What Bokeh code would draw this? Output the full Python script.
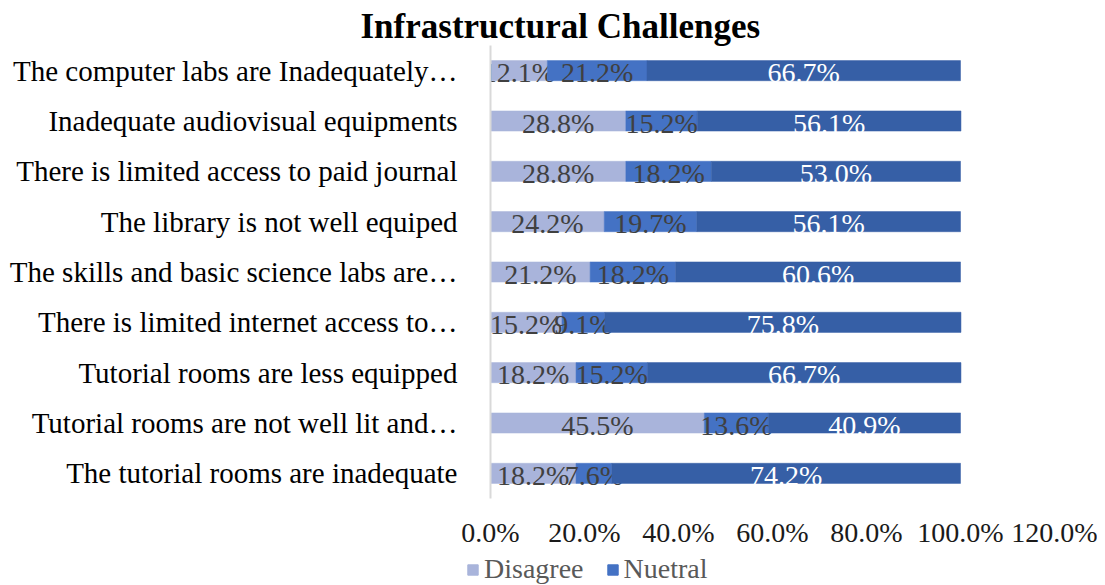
from bokeh.plotting import figure
from bokeh.layouts import column
from bokeh.models import (ColumnDataSource, FactorRange, NumeralTickFormatter,
                          FixedTicker, Legend, LegendItem)
from bokeh.core.properties import value
from bokeh.embed import file_html
from bokeh.resources import INLINE

categories = [
    "The computer labs are Inadequately…",
    "Inadequate audiovisual equipments",
    "There is limited access to paid journal",
    "The library is not well equiped",
    "The skills and basic science labs are…",
    "There is limited internet access to…",
    "Tutorial rooms are less equipped",
    "Tutorial rooms are not well lit and…",
    "The tutorial rooms are inadequate",
]
disagree = [12.1, 28.8, 28.8, 24.2, 21.2, 15.2, 18.2, 45.5, 18.2]
neutral = [21.2, 15.2, 18.2, 19.7, 18.2, 9.1, 15.2, 13.6, 7.6]
agree = [66.7, 56.1, 53.0, 56.1, 60.6, 75.8, 66.7, 40.9, 74.2]
series_names = ["Disagree", "Nuetral", "Agree"]
colors = ["#A9B4DB", "#4472C4", "#365FA6"]
label_colors = ["#404040", "#404040", "#FFFFFF"]
x_ticks = [0.0, 0.2, 0.4, 0.6, 0.8, 1.0, 1.2]

FONT = "Liberation Serif"

p = figure(width=1097, height=550, output_backend="svg", toolbar_location=None,
           y_range=FactorRange(factors=list(reversed(categories))),
           x_range=(0, 1.2))
p.frame_align = False
p.min_border_left = 490
p.min_border_right = 43
p.min_border_top = 45
p.min_border_bottom = 45
p.outline_line_color = None
p.xgrid.grid_line_color = None
p.ygrid.grid_line_color = None

series = [disagree, neutral, agree]
start = [0.0] * len(categories)
for name, vals, col, lcol in zip(series_names, series, colors, label_colors):
    left = [s for s in start]
    right = [s + v / 100 for s, v in zip(start, vals)]
    src = ColumnDataSource(dict(
        y=categories, left=left, right=right,
        mid=[(a + b) / 2 for a, b in zip(left, right)],
        txt=[f"{v:.1f}%" for v in vals]))
    p.hbar(y="y", left="left", right="right", height=0.4, source=src,
           fill_color=col, line_color=col, line_width=0.5)
    p.text(x="mid", y="y", text="txt", source=src, text_align="center",
           text_baseline="middle", text_font=value(FONT),
           text_font_size="28px", text_color=lcol, y_offset=2)
    start = right

p.xaxis.ticker = FixedTicker(ticks=x_ticks)
p.xaxis.formatter = NumeralTickFormatter(format="0.0%")
p.xaxis.axis_line_color = None
p.xaxis.major_tick_line_color = None
p.xaxis.minor_tick_line_color = None
p.xaxis.major_label_standoff = 12
p.xaxis.major_label_text_font = FONT
p.xaxis.major_label_text_font_size = "28px"
p.xaxis.major_label_text_color = "#1A1A1A"

p.yaxis.axis_line_color = "#D9D9D9"
p.yaxis.axis_line_width = 2
p.yaxis.major_tick_line_color = None
p.yaxis.minor_tick_line_color = None
p.yaxis.major_label_standoff = 27
p.yaxis.major_label_text_font = FONT
p.yaxis.major_label_text_font_size = "29px"
p.yaxis.major_label_text_color = "#000000"

p.title.text = "Infrastructural Challenges"
p.title.text_font = FONT
p.title.text_font_size = "35px"
p.title.text_font_style = "bold"
p.title.text_color = "#000000"
p.title.align = "left"
p.title.offset = -130
p.title.standoff = 0

# legend strip below the chart (proxy renderers sit outside the visible range)
lg = figure(width=1097, height=35, output_backend="svg", toolbar_location=None,
            x_range=(0, 1), y_range=(0, 1), x_axis_type=None, y_axis_type=None)
lg.frame_align = False
lg.min_border_left = 0
lg.min_border_right = 0
lg.min_border_top = 0
lg.min_border_bottom = 0
lg.outline_line_color = None
lg.xgrid.grid_line_color = None
lg.ygrid.grid_line_color = None
items = []
for name, col in zip(series_names[:2], colors[:2]):
    r = lg.hbar(y=[-5], left=[0], right=[1], height=0.4,
                fill_color=col, line_color=col)
    items.append(LegendItem(label=name, renderers=[r]))
legend = Legend(items=items, orientation="horizontal", location=(466, 0),
                label_text_font=FONT, label_text_font_size="28px",
                label_text_color="#595959", glyph_width=13, glyph_height=13,
                spacing=22, padding=0, margin=0,
                border_line_color=None, background_fill_alpha=0,
                label_standoff=5)
lg.add_layout(legend, "center")

layout = column(p, lg, spacing=0)
open("out.html", "w").write(file_html(layout, INLINE))
